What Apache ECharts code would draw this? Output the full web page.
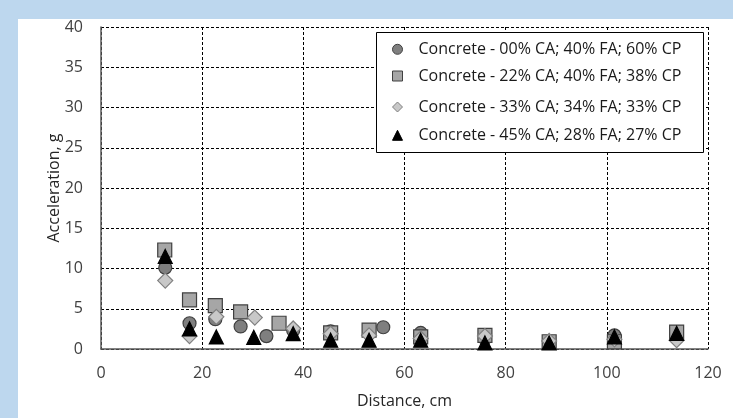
<!DOCTYPE html>
<html>
<head>
<meta charset="utf-8">
<script src="https://cdn.jsdelivr.net/npm/echarts@6/dist/echarts.min.js"></script>
<style>
  html, body { margin: 0; padding: 0; background: #bdd7ee; width: 733px; height: 418px; overflow: hidden; }
  #chart { position: absolute; left: 18px; top: 19px; width: 715px; height: 399px; background: #ffffff; }
</style>
</head>
<body>
<div id="chart"></div>
<script>
// ---- data (x = distance cm, y = acceleration g) ----
const seriesNames = [
  'Concrete - 00% CA; 40% FA; 60% CP',
  'Concrete - 22% CA; 40% FA; 38% CP',
  'Concrete - 33% CA; 34% FA; 33% CP',
  'Concrete - 45% CA; 28% FA; 27% CP'
];
const ca00 = [[12.7,10.1],[17.5,3.2],[22.6,3.7],[27.6,2.8],[32.7,1.6],[38.0,2.3],[45.4,2.2],[55.8,2.7],[63.2,2.0],[75.9,1.3],[88.6,0.9],[101.5,1.7],[113.8,1.8]];
const ca22 = [[12.6,12.3],[17.5,6.1],[22.6,5.4],[27.6,4.6],[35.2,3.2],[45.4,2.0],[53.0,2.35],[63.2,1.5],[75.9,1.7],[88.6,0.9],[101.5,0.9],[113.8,2.1]];
const ca33 = [[12.7,8.5],[17.5,1.6],[22.8,4.0],[30.4,3.9],[38.0,2.55],[45.4,1.9],[53.0,1.7],[63.2,1.3],[75.9,1.6],[88.6,1.0],[101.5,1.2],[113.8,1.1]];
const ca45 = [[12.7,11.5],[17.5,2.5],[22.8,1.5],[30.2,1.45],[38.0,1.9],[45.4,1.1],[53.0,1.1],[63.2,1.1],[75.9,0.75],[88.6,0.75],[101.5,1.5],[113.8,1.95]];
const xTicks = { min: 0, max: 120, step: 20 };
const yTicks = { min: 0, max: 40, step: 5 };

const FONT = 'Open Sans';
const chart = echarts.init(document.getElementById('chart'), null, { renderer: 'canvas' });

const styles = [
  { symbol: 'circle', size: 13, color: '#7f7f7f', border: '#404040' },
  { symbol: 'rect', size: 14, color: '#a6a6a6', border: '#404040' },
  { symbol: 'diamond', size: 15, color: '#c8c8c8', border: '#808080' },
  { symbol: 'triangle', size: 14, color: '#000000', border: '#000000' }
];
const datasets = [ca00, ca22, ca33, ca45];
const legendCenters = [48.3, 75, 106, 134.3];

const series = datasets.map((d, i) => ({
  name: seriesNames[i],
  type: 'scatter',
  data: d,
  symbol: styles[i].symbol,
  symbolSize: styles[i].size,
  itemStyle: { color: styles[i].color, borderColor: styles[i].border, borderWidth: 1.2, opacity: 1 },
  z: 2 + i
}));

const legends = seriesNames.map((n, i) => ({
  data: [n],
  orient: 'vertical',
  left: 392 - 18,
  top: legendCenters[i] - 19 - 7,
  itemWidth: 10,
  itemHeight: 10,
  itemGap: 0,
  padding: 0,
  z: 10,
  itemStyle: { borderWidth: 1 },
  textStyle: { fontFamily: FONT, fontSize: 16, color: '#1a1a1a', padding: [0, 0, 0, 11] },
  selectedMode: false
}));

chart.setOption({
  animation: false,
  grid: { left: 83, top: 7, right: 25, bottom: 69, containLabel: false },
  xAxis: {
    type: 'value', min: xTicks.min, max: xTicks.max, interval: xTicks.step,
    name: 'Distance, cm', nameLocation: 'middle', nameGap: 44, nameMoveOverlap: false,
    nameTextStyle: { fontFamily: FONT, fontSize: 16, color: '#262626' },
    axisLine: { show: true, onZero: false, lineStyle: { color: '#595959', width: 1.5 } },
    axisTick: { show: false },
    axisLabel: { fontFamily: FONT, fontSize: 16, color: '#404040', margin: 16 },
    splitLine: { show: true, lineStyle: { color: '#000', width: 1, type: [3, 2] } }
  },
  yAxis: {
    type: 'value', min: yTicks.min, max: yTicks.max, interval: yTicks.step,
    name: 'Acceleration, g', nameLocation: 'middle', nameGap: 39, nameMoveOverlap: false,
    nameTextStyle: { fontFamily: FONT, fontSize: 16, color: '#262626' },
    axisLine: { show: true, onZero: false, lineStyle: { color: '#595959', width: 1.5 } },
    axisTick: { show: false },
    axisLabel: { fontFamily: FONT, fontSize: 16, color: '#404040', margin: 18 },
    splitLine: { show: true, lineStyle: { color: '#000', width: 1, type: [3, 2] } }
  },
  legend: legends,
  graphic: [{
    type: 'rect', z: 5,
    shape: { x: 376 - 18 + 0.5, y: 32 - 19 + 0.5, width: 327, height: 120 },
    style: { fill: '#ffffff', stroke: '#000000', lineWidth: 1 }
  }],
  series: series
});
</script>
</body>
</html>
